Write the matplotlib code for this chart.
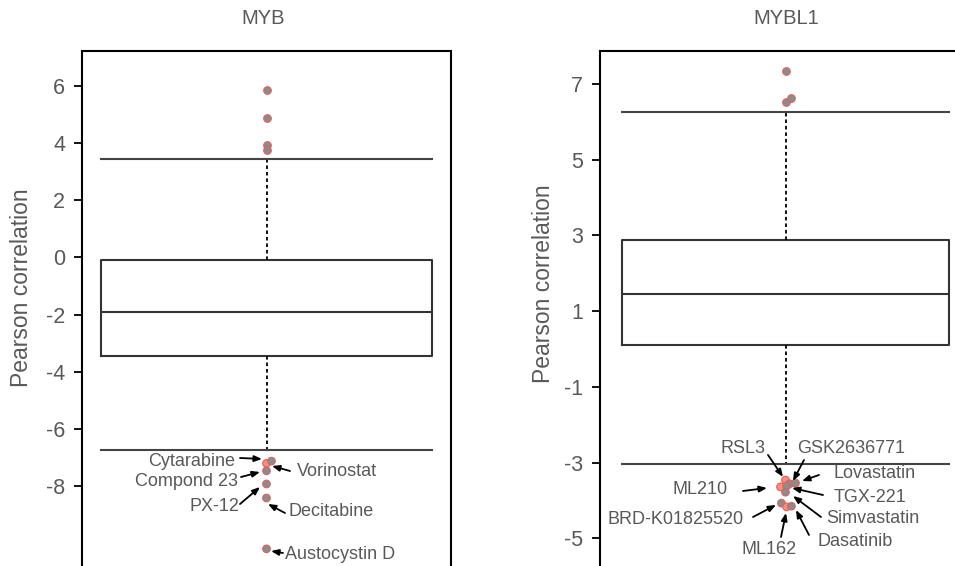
import matplotlib
matplotlib.use("Agg")
import matplotlib.pyplot as plt

plt.rcParams['font.family'] = ['Liberation Sans', 'DejaVu Sans']

# ---------------- data ----------------
genes = ["MYB", "MYBL1"]

# MYB box statistics
myb_q1, myb_med, myb_q3 = -3.45, -1.91, -0.09
myb_whislo, myb_whishi = -6.74, 3.44
myb_high = [5.86, 4.88, 3.93, 3.76]
myb_high_jit = [0.0, 0.0, 0.0, 0.0]
myb_low_names = ["Cytarabine", "Vorinostat", "Compond 23", "PX-12", "Decitabine", "Austocystin D"]
myb_low = [-7.21, -7.13, -7.47, -7.93, -8.42, -10.20]
myb_low_jit = [0.0, 0.0135, 0.0, 0.0, 0.0, 0.0]
myb_low_hl = [True, False, False, False, False, False]
myb_ticks = [-8, -6, -4, -2, 0, 2, 4, 6]

# MYBL1 box statistics
mybl1_q1, mybl1_med, mybl1_q3 = 0.10, 1.45, 2.88
mybl1_whislo, mybl1_whishi = -3.04, 6.26
mybl1_high = [7.34, 6.53, 6.62]
mybl1_high_jit = [0.0, 0.0, 0.016]
mybl1_low_names = ["RSL3", "GSK2636771", "Lovastatin", "ML210", "TGX-221",
                   "Simvastatin", "BRD-K01825520", "ML162", "Dasatinib"]
mybl1_low = [-3.46, -3.56, -3.54, -3.64, -3.62, -3.78, -4.07, -4.17, -4.15]
mybl1_low_jit = [0.0, 0.011, 0.027, -0.0135, 0.003, 0.0, -0.011, 0.003, 0.016]
mybl1_low_hl = [True, False, False, True, False, False, False, True, False]
mybl1_ticks = [-5, -3, -1, 1, 3, 5, 7]

# ---------------- label layout (text x, y, ha, arrow start x, y) ----------------
myb_layout = [
    (-0.0854, -7.16, 'right', -0.0718, -7.02),
    (0.0827, -7.476, 'left', 0.0637, -7.476),
    (-0.0772, -7.86, 'right', -0.0691, -7.686),
    (-0.0745, -8.735, 'right', -0.0718, -8.631),
    (0.0583, -8.91, 'left', 0.0501, -8.945),
    (0.0501, -10.415, 'left', 0.0447, -10.345),
]
myb_arrow_end = [(-0.0122, -7.056), (0.0149, -7.301), (-0.0176, -7.511),
                 (-0.0176, -8.036), (0.0041, -8.631), (0.0122, -10.275)]

mybl1_layout = [
    (-0.0526, -2.64, 'right', -0.0472, -2.798),
    (0.031, -2.64, 'left', 0.0499, -2.930),
    (0.1307, -3.30, 'left', 0.0903, -3.326),
    (-0.155, -3.722, 'right', -0.1146, -3.749),
    (0.1307, -3.934, 'left', 0.1011, -3.855),
    (0.1092, -4.488, 'left', 0.0957, -4.436),
    (-0.1119, -4.514, 'right', -0.0876, -4.436),
    (-0.0445, -5.306, 'center', -0.0121, -4.963),
    (0.0876, -5.095, 'left', 0.0633, -4.910),
]
mybl1_arrow_end = [(-0.0067, -3.379), (0.0202, -3.485), (0.0445, -3.485),
                   (-0.0499, -3.670), (0.0175, -3.670), (0.0202, -3.881),
                   (-0.0256, -4.118), (0.0013, -4.330), (0.0283, -4.250)]

TXT = '#595959'
GRAY_FILL = '#8c8c8c'
SALMON_FILL = '#f4907a'
EDGE = '#e06060'

fig = plt.figure(figsize=(9.55, 5.66), dpi=100)
W, H = 955, 566

def make_ax(x0, x1):
    return fig.add_axes([x0 / W, 0, (x1 - x0) / W, 1 - 51 / H])

panels = [
    dict(ax=make_ax(82, 451), stats=dict(q1=myb_q1, med=myb_med, q3=myb_q3,
                                          whislo=myb_whislo, whishi=myb_whishi),
         width=0.897, ylim=(-10.80, 7.22), ticks=myb_ticks,
         high=myb_high, high_jit=myb_high_jit,
         low=myb_low, low_jit=myb_low_jit, low_hl=myb_low_hl,
         names=myb_low_names, layout=myb_layout, aend=myb_arrow_end,
         title_x=263, ylab_x=21, ylab_y=288),
    dict(ax=make_ax(600, 971), stats=dict(q1=mybl1_q1, med=mybl1_med, q3=mybl1_q3,
                                           whislo=mybl1_whislo, whishi=mybl1_whishi),
         width=0.884, ylim=(-5.73, 7.87), ticks=mybl1_ticks,
         high=mybl1_high, high_jit=mybl1_high_jit,
         low=mybl1_low, low_jit=mybl1_low_jit, low_hl=mybl1_low_hl,
         names=mybl1_low_names, layout=mybl1_layout, aend=mybl1_arrow_end,
         title_x=786, ylab_x=543, ylab_y=284),
]

for gene, p in zip(genes, panels):
    ax = p['ax']
    w = p['width']
    ax.bxp([p['stats']], positions=[0], widths=[w], capwidths=[w], showfliers=False,
           boxprops=dict(color='#333333', lw=1.5),
           medianprops=dict(color='#333333', lw=1.5),
           whiskerprops=dict(color='black', lw=1.3, linestyle=(0, (2, 1.6))),
           capprops=dict(color='#444444', lw=1.5))
    # outliers
    ax.scatter(p['high_jit'], p['high'], s=30, c=GRAY_FILL, edgecolors=EDGE,
               linewidths=0.8, zorder=4)
    cols = [SALMON_FILL if h else GRAY_FILL for h in p['low_hl']]
    ax.scatter(p['low_jit'], p['low'], s=30, c=cols, edgecolors=EDGE,
               linewidths=0.8, zorder=4)
    # labels & arrows
    for name, (tx, ty, ha, sx, sy), (ex, ey) in zip(p['names'], p['layout'], p['aend']):
        ax.text(tx, ty, name, ha=ha, va='center', fontsize=13, color=TXT, zorder=5)
        ax.annotate('', xy=(ex, ey), xytext=(sx, sy),
                    arrowprops=dict(arrowstyle='-|>,head_length=0.45,head_width=0.18',
                                    color='black', lw=1.3, shrinkA=0, shrinkB=0,
                                    mutation_scale=10), zorder=5)
    ax.set_xlim(-0.5, 0.5)
    ax.set_ylim(*p['ylim'])
    ax.set_yticks(p['ticks'])
    ax.set_yticklabels([str(t) for t in p['ticks']])
    ax.set_xticks([])
    ax.tick_params(axis='y', labelsize=15.5, labelcolor=TXT, length=6, width=1.3, pad=6,
                   color='black')
    for s in ['left', 'top', 'right']:
        ax.spines[s].set_linewidth(1.5)
        ax.spines[s].set_color('black')
    ax.spines['bottom'].set_visible(False)
    fig.text(p['title_x'] / W, 1 - 19 / H, gene, ha='center', va='center',
             fontsize=14.5, color=TXT)
    fig.text(p['ylab_x'] / W, 1 - p['ylab_y'] / H, 'Pearson correlation', rotation=90,
             ha='center', va='center', fontsize=16.5, color=TXT)

fig.savefig('out.png', dpi=100, facecolor='white')
